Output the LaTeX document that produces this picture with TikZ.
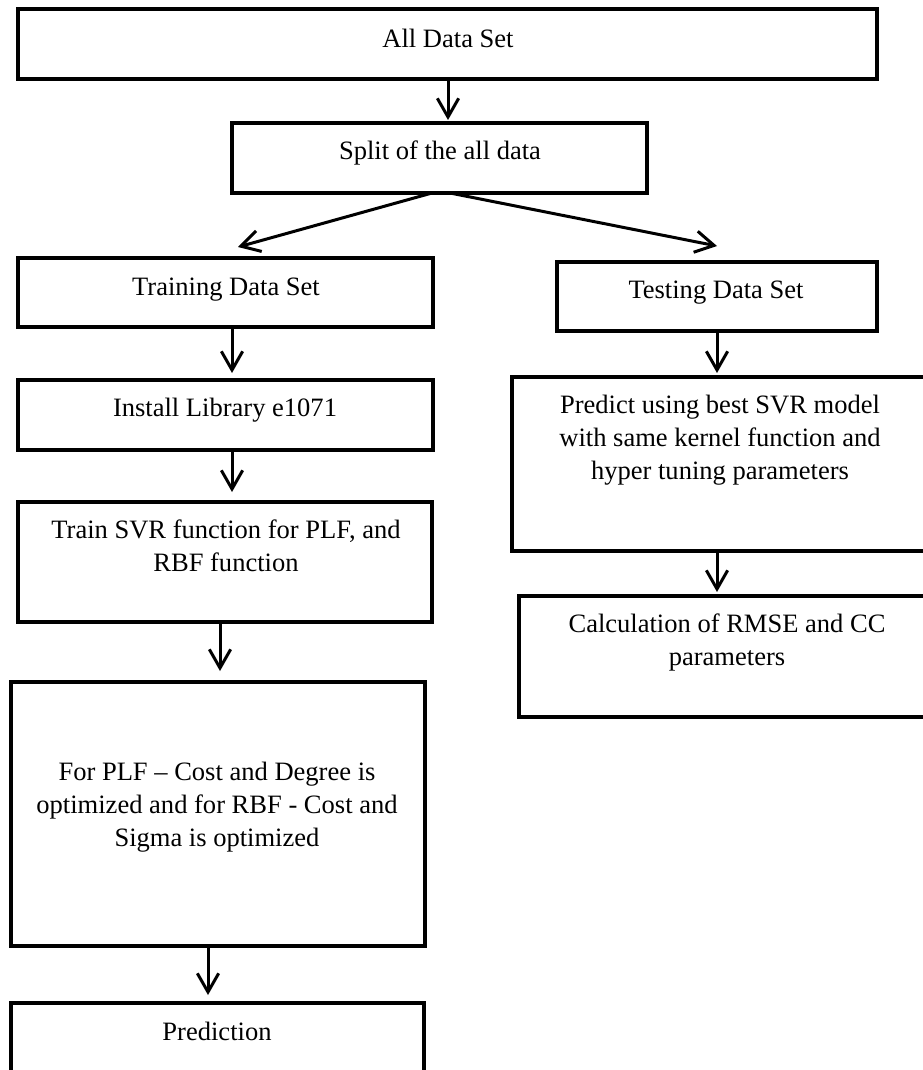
\documentclass[tikz,border=0pt]{standalone}
\usepackage{fontspec}
\setmainfont{Liberation Serif}
\usetikzlibrary{arrows.meta,calc}
\begin{document}
\begin{tikzpicture}[x=0.75pt,y=-0.75pt,
  box/.style={draw,line width=3pt,inner sep=0pt,outer sep=0pt,rectangle},
  txt/.style={inner sep=0pt,outer sep=0pt,align=center,anchor=base,font=\fontsize{19.9}{24.75}\selectfont},
  arr/.style={line width=2.25pt,-{Straight Barb[length=14pt,width=16pt]}}]
\useasboundingbox (0,0) rectangle (923,1070);
\clip (0,0) rectangle (923,1070);
% boxes
\node[box,minimum width=859*0.75pt,minimum height=70*0.75pt] (all) at (447.5,44) {};
\node[box,minimum width=415*0.75pt,minimum height=70*0.75pt] (split) at (439.5,158) {};
\node[box,minimum width=415*0.75pt,minimum height=69*0.75pt] (train) at (225.5,292.5) {};
\node[box,minimum width=320*0.75pt,minimum height=69*0.75pt] (test) at (717,296.5) {};
\node[box,minimum width=415*0.75pt,minimum height=70*0.75pt] (install) at (225.5,415) {};
\node[box,minimum width=414*0.75pt,minimum height=120*0.75pt] (svr) at (225,562) {};
\node[box,minimum width=414*0.75pt,minimum height=264*0.75pt] (plf) at (218,814) {};
\node[box,minimum width=413*0.75pt,minimum height=97*0.75pt] (pred) at (217.5,1051.5) {};
\node[box,minimum width=423*0.75pt,minimum height=174*0.75pt] (predict) at (723.5,464) {};
\node[box,minimum width=416*0.75pt,minimum height=121*0.75pt] (calc) at (727,656.5) {};
% texts (base anchor = baseline of last line)
\node[txt] (tall) at (448,48) {All Data Set};
\node[txt] (tsplit) at (440,160) {Split of the all data};
\node[txt] (ttrain) at (226,295) {Training Data Set};
\node[txt] (ttest) at (716,298) {Testing Data Set};
\node[txt] (tinstall) at (225,416) {Install Library e1071};
\node[txt] (tsvr) at (226,571) {Train SVR function for PLF, and\\RBF function};
\node[txt] (tplf) at (217,846) {For PLF -- Cost and Degree is\\optimized and for RBF - Cost and\\Sigma is optimized};
\node[txt] (tpred) at (217,1040) {Prediction};
\node[txt] (tpredict) at (720,479) {Predict using best SVR model\\with same kernel function and\\hyper tuning parameters};
\node[txt] (tcalc) at (727,665) {Calculation of RMSE and CC\\parameters};
% connectors
\draw[arr] ($(all.south)+(0.5,0)$) -- ($(split.north)+(8.5,-3)$);
\draw[arr] ($(split.south)+(-7.5,0)$) -- ($(train.north)+(12.5,-11)$);
\draw[arr] ($(split.south)+(10.5,0)$) -- ($(test.north)+(0,-16)$);
\draw[arr] ($(train.south)+(6.5,0)$) -- ($(install.north)+(6.5,-7)$);
\draw[arr] ($(install.south)+(6.5,0)$) -- ($(svr.north)+(7,-10)$);
\draw[arr] ($(svr.south)+(-5,0)$) -- ($(plf.north)+(2,-11)$);
\draw[arr] ($(plf.south)+(-10,0)$) -- ($(pred.north)+(-9.5,-8)$);
\draw[arr] (test.south) -- ($(predict.north)+(-6.5,-4)$);
\draw[arr] ($(predict.south)+(-6.5,0)$) -- ($(calc.north)+(-10,-4)$);
\end{tikzpicture}
\end{document}
